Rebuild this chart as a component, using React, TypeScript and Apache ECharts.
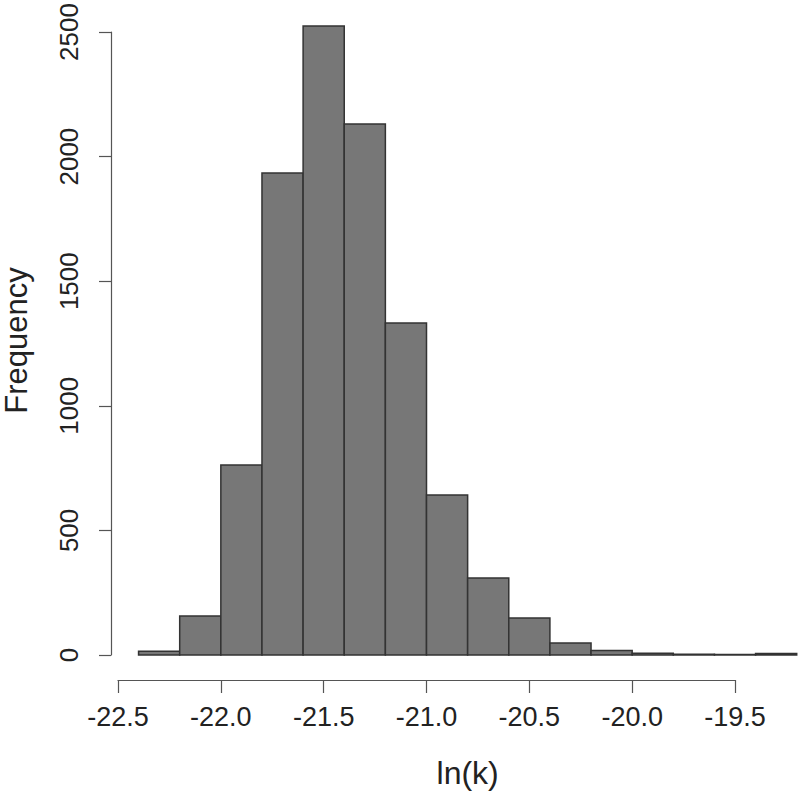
import React, { useEffect, useRef } from "react";
import * as echarts from "echarts";

const binStarts = [-22.4, -22.2, -22.0, -21.8, -21.6, -21.4, -21.2, -21.0, -20.8, -20.6, -20.4, -20.2, -20.0, -19.8, -19.6, -19.4];
const binWidth = 0.2;
const counts = [15, 156, 762, 1934, 2524, 2131, 1332, 642, 309, 148, 48, 18, 7, 3, 2, 6];
const xTicks = [-22.5, -22.0, -21.5, -21.0, -20.5, -20.0, -19.5];
const yTicks = [0, 500, 1000, 1500, 2000, 2500];

const FONT = "Liberation Sans";

export default function App() {
  const ref = useRef<HTMLDivElement>(null);
  useEffect(() => {
    document.body.style.margin = "0";
    const chart = echarts.init(ref.current!, null, { renderer: "svg" });
    const data = binStarts.map((s, i) => [s, s + binWidth, counts[i]]);
    // R-style plot region: data range extended by 4% on each side
    const xLo = binStarts[0];
    const xHi = binStarts[binStarts.length - 1] + binWidth;
    const xPad = (xHi - xLo) * 0.04;
    const yHi = Math.max(...counts);
    const yPad = yHi * 0.04;
    chart.setOption({
      animation: false,
      backgroundColor: "#ffffff",
      grid: [
        { left: 112.24, width: 710.8, top: 0.85, bottom: 112.85, containLabel: false, outerBoundsMode: "none" },
        { left: 118, right: 65, top: 32, bottom: 113, containLabel: false, outerBoundsMode: "none" },
        { left: 111, right: 65, top: 32, bottom: 138, containLabel: false, outerBoundsMode: "none" },
      ],
      xAxis: [
        {
          gridIndex: 0,
          type: "value",
          min: xLo - xPad,
          max: xHi + xPad,
          splitLine: { show: false },
          axisLine: { show: false, onZero: false },
          axisTick: { show: false },
          axisLabel: { show: false },
          name: "ln(k)",
          nameLocation: "middle",
          nameGap: 77,
          nameTextStyle: { fontSize: 32, fontFamily: FONT, color: "#222" },
        },
        {
          gridIndex: 1,
          type: "value",
          min: xTicks[0],
          max: xTicks[xTicks.length - 1],
          interval: 0.5,
          splitLine: { show: false },
          axisLine: { show: true, onZero: false, lineStyle: { color: "#555", width: 1.2 } },
          axisTick: { show: true, length: 13, lineStyle: { color: "#555", width: 1.2 } },
          axisLabel: {
            margin: 23,
            fontSize: 27,
            fontFamily: FONT,
            color: "#222",
            formatter: (v: number) => v.toFixed(1),
          },
        },
        { gridIndex: 2, type: "value", show: false },
      ],
      yAxis: [
        {
          gridIndex: 0,
          type: "value",
          min: -yPad,
          max: yHi + yPad,
          splitLine: { show: false },
          axisLine: { show: false, onZero: false },
          axisTick: { show: false },
          axisLabel: { show: false },
          name: "Frequency",
          nameLocation: "middle",
          nameGap: 80,
          nameTextStyle: { fontSize: 31, lineHeight: 31, fontFamily: FONT, color: "#222" },
        },
        { gridIndex: 1, type: "value", show: false },
        {
          gridIndex: 2,
          type: "value",
          min: yTicks[0],
          max: yTicks[yTicks.length - 1],
          interval: 500,
          splitLine: { show: false },
          axisLine: { show: true, onZero: false, lineStyle: { color: "#555", width: 1.2 } },
          axisTick: { show: true, length: 12, lineStyle: { color: "#555", width: 1.2 } },
          axisLabel: {
            rotate: 90,
            margin: 29,
            fontSize: 26,
            fontFamily: FONT,
            color: "#222",
            formatter: (v: number) => String(v),
          },
        },
      ],
      series: [
        {
          type: "custom",
          xAxisIndex: 0,
          yAxisIndex: 0,
          data,
          encode: { x: [0, 1], y: 2 },
          renderItem: (params: any, api: any) => {
            const p0 = api.coord([api.value(0), api.value(2)]);
            const p1 = api.coord([api.value(1), 0]);
            return {
              type: "rect",
              shape: { x: p0[0], y: p0[1], width: p1[0] - p0[0], height: p1[1] - p0[1] },
              style: { fill: "#777777", stroke: "#333333", lineWidth: 1.5 },
            };
          },
        },
      ],
    });
    return () => chart.dispose();
  }, []);
  return <div ref={ref} style={{ width: 800, height: 793 }} />;
}
